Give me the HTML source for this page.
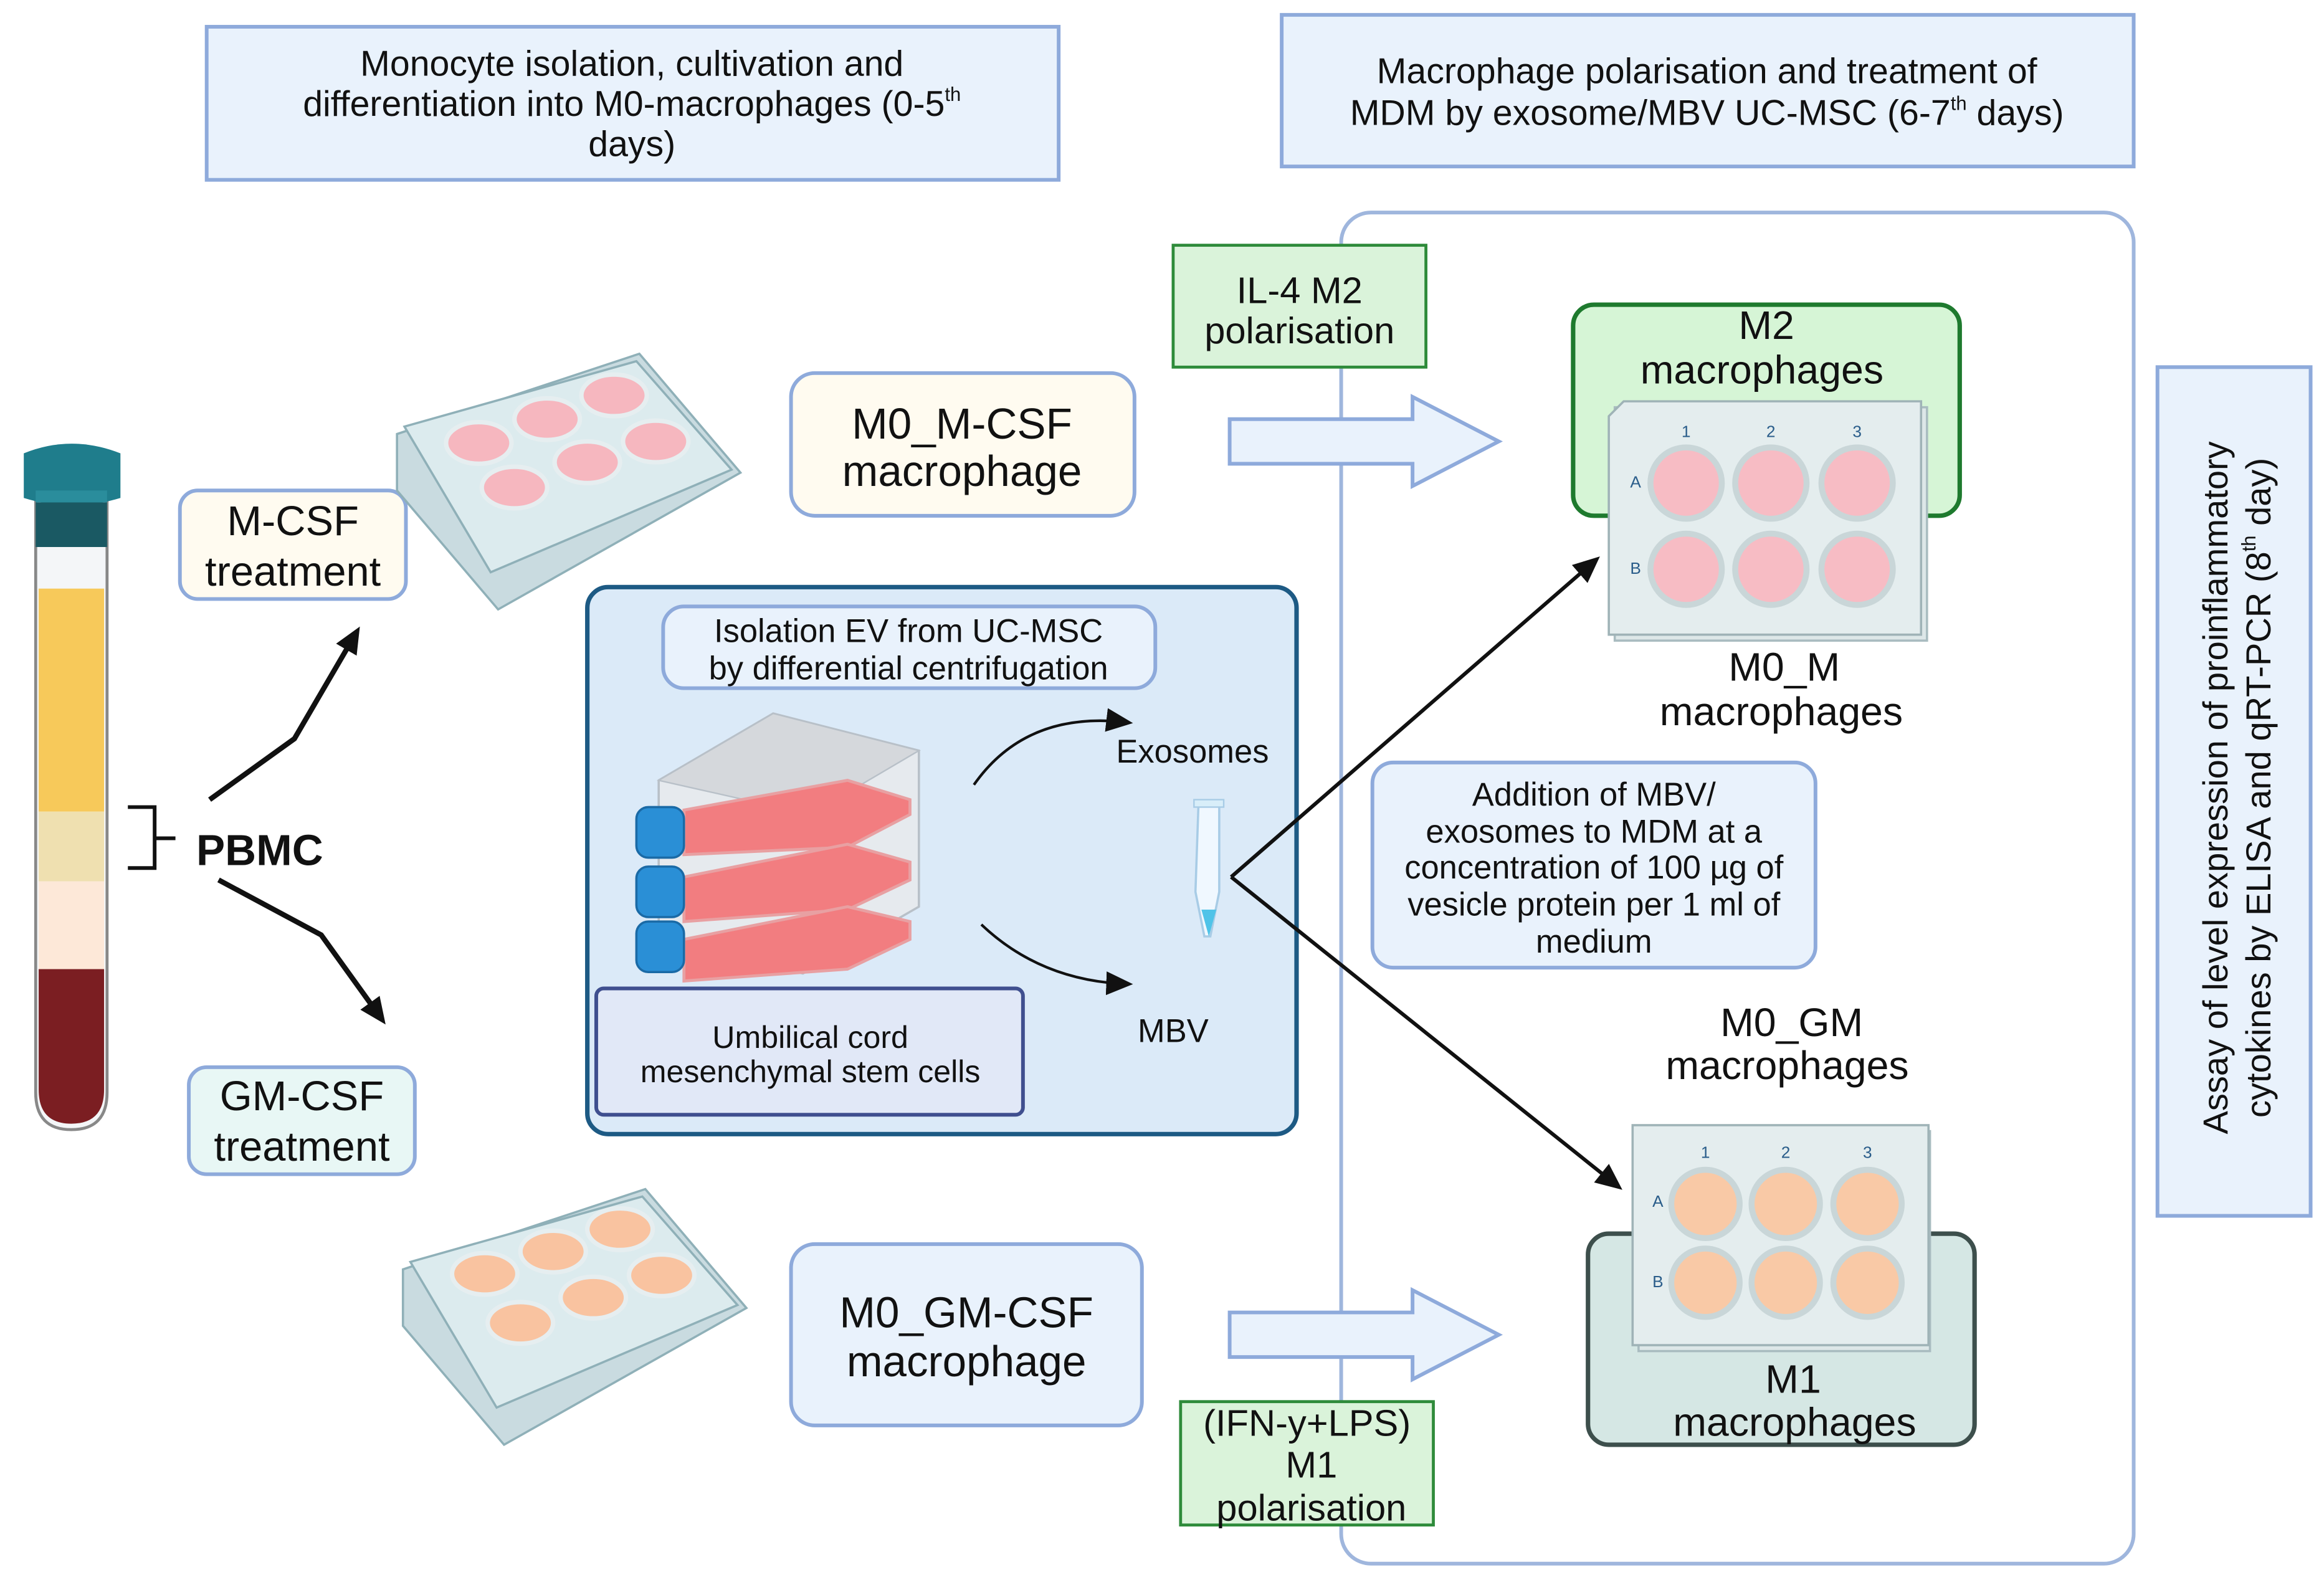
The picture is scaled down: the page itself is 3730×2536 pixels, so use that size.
<!DOCTYPE html>
<html><head><meta charset="utf-8"><style>
html,body{margin:0;padding:0;background:#fff;}
svg{display:block;}
text{font-family:"Liberation Sans",sans-serif;fill:#111;}
</style></head><body>
<svg width="3730" height="2536" viewBox="0 0 1563 1063" preserveAspectRatio="none" xmlns="http://www.w3.org/2000/svg">
<defs>
<marker id="ah2" markerWidth="20" markerHeight="20" refX="14" refY="10" orient="auto" markerUnits="userSpaceOnUse" viewBox="0 0 20 20"><path d="M0,2 L18,10 L0,18 z" fill="#111"/></marker>
</defs>
<rect width="1563" height="1063" fill="#fff"/>
<!-- top boxes -->
<rect x="139" y="18" width="573" height="103" fill="#e9f2fc" stroke="#8eaadb" stroke-width="2.5"/>
<text x="425" y="51" font-size="24" text-anchor="middle">Monocyte isolation, cultivation and</text>
<text x="425" y="78" font-size="24" text-anchor="middle">differentiation into M0-macrophages (0-5<tspan font-size="13" dy="-10">th</tspan></text>
<text x="425" y="105" font-size="24" text-anchor="middle">days)</text>
<rect x="862" y="10" width="573" height="102" fill="#e9f2fc" stroke="#8eaadb" stroke-width="2.5"/>
<text x="1148" y="56" font-size="24" text-anchor="middle">Macrophage polarisation and treatment of</text>
<text x="1148" y="84" font-size="24" text-anchor="middle">MDM by exosome/MBV UC-MSC (6-7<tspan font-size="13" dy="-10">th</tspan><tspan dy="10"> days)</tspan></text>
<!-- big container -->
<rect x="902" y="143" width="533" height="909" rx="20" fill="none" stroke="#9fb6dd" stroke-width="2.5"/>
<!-- right vertical -->
<rect x="1451" y="247" width="103" height="571" fill="#e9f2fc" stroke="#8eaadb" stroke-width="2.5"/>
<text transform="translate(1498,530) rotate(-90)" font-size="23.5" text-anchor="middle">Assay of level expression of proinflammatory</text>
<text transform="translate(1527,530) rotate(-90)" font-size="23.5" text-anchor="middle">cytokines by ELISA and qRT-PCR (8<tspan font-size="13" dy="-10">th</tspan><tspan dy="10"> day)</tspan></text>
<!-- IL-4 -->
<rect x="789" y="165" width="170" height="82" fill="#daf3da" stroke="#2e8b3a" stroke-width="2"/>
<text x="874" y="204" font-size="25" text-anchor="middle">IL-4 M2</text>
<text x="874" y="231" font-size="25" text-anchor="middle">polarisation</text>
<!-- M0_M-CSF -->
<rect x="532" y="251" width="231" height="96" rx="16" fill="#fffbf0" stroke="#8eaadb" stroke-width="2.5"/>
<text x="647" y="295" font-size="29" text-anchor="middle">M0_M-CSF</text>
<text x="647" y="327" font-size="29" text-anchor="middle">macrophage</text>
<!-- fat arrows -->
<path d="M827,282 L950,282 L950,267 L1008,297 L950,327 L950,312 L827,312 z" fill="#e9f2fc" stroke="#8eaadb" stroke-width="2.5"/>
<path d="M827,883 L950,883 L950,868 L1008,898 L950,928 L950,913 L827,913 z" fill="#e9f2fc" stroke="#8eaadb" stroke-width="2.5"/>
<!-- M2 box -->
<rect x="1058" y="205" width="260" height="142" rx="14" fill="#d6f5d6" stroke="#1e7a2e" stroke-width="3"/>
<text x="1188" y="228" font-size="27" text-anchor="middle">M2</text>
<text x="1185" y="258" font-size="27" text-anchor="middle">macrophages</text>
<!-- top plate -->
<rect x="1086" y="274" width="210" height="157" fill="#dde7e8" stroke="#a9bcc0" stroke-width="1.5"/>
<path d="M1092,270 L1292,270 L1292,427 L1082,427 L1082,280 z" fill="#e4edee" stroke="#9fb3b7" stroke-width="1.5"/>
<g font-size="11" text-anchor="middle">
<text x="1134" y="294" style="fill:#2a5d8a">1</text><text x="1191" y="294" style="fill:#2a5d8a">2</text><text x="1249" y="294" style="fill:#2a5d8a">3</text>
<text x="1100" y="328" style="fill:#2a5d8a">A</text><text x="1100" y="386" style="fill:#2a5d8a">B</text></g>
<g fill="#f7bcc4" stroke="#c9d6d8" stroke-width="4">
<circle cx="1134" cy="325" r="24"/><circle cx="1191" cy="325" r="24"/><circle cx="1249" cy="325" r="24"/>
<circle cx="1134" cy="383" r="24"/><circle cx="1191" cy="383" r="24"/><circle cx="1249" cy="383" r="24"/></g>
<text x="1200" y="458" font-size="27" text-anchor="middle">M0_M</text>
<text x="1198" y="488" font-size="27" text-anchor="middle">macrophages</text>
<!-- addition box -->
<rect x="923" y="513" width="298" height="138" rx="14" fill="#e9f2fc" stroke="#8eaadb" stroke-width="2.5"/>
<g font-size="22" text-anchor="middle">
<text x="1072" y="542">Addition of MBV/</text>
<text x="1072" y="567">exosomes to MDM at a</text>
<text x="1072" y="591">concentration of 100 µg of</text>
<text x="1072" y="616">vesicle protein per 1 ml of</text>
<text x="1072" y="641">medium</text></g>
<text x="1205" y="697" font-size="27" text-anchor="middle">M0_GM</text>
<text x="1202" y="726" font-size="27" text-anchor="middle">macrophages</text>
<!-- M1 box -->
<rect x="1068" y="830" width="260" height="142" rx="14" fill="#d5e7e4" stroke="#3d4f4c" stroke-width="3"/>
<text x="1206" y="937" font-size="27" text-anchor="middle">M1</text>
<text x="1207" y="966" font-size="27" text-anchor="middle">macrophages</text>
<!-- lower plate -->
<rect x="1102" y="761" width="196" height="148" fill="#dde7e8" stroke="#a9bcc0" stroke-width="1.5"/>
<rect x="1098" y="757" width="199" height="148" fill="#e4edee" stroke="#9fb3b7" stroke-width="1.5"/>
<g font-size="11" text-anchor="middle">
<text x="1147" y="779" style="fill:#2a5d8a">1</text><text x="1201" y="779" style="fill:#2a5d8a">2</text><text x="1256" y="779" style="fill:#2a5d8a">3</text>
<text x="1115" y="812" style="fill:#2a5d8a">A</text><text x="1115" y="866" style="fill:#2a5d8a">B</text></g>
<g fill="#f9c9a6" stroke="#c9d6d8" stroke-width="4">
<circle cx="1147" cy="810" r="23"/><circle cx="1201" cy="810" r="23"/><circle cx="1256" cy="810" r="23"/>
<circle cx="1147" cy="863" r="23"/><circle cx="1201" cy="863" r="23"/><circle cx="1256" cy="863" r="23"/></g>
<!-- IFN -->
<rect x="794" y="943" width="170" height="83" fill="#daf3da" stroke="#2e8b3a" stroke-width="2"/>
<text x="879" y="966" font-size="25" text-anchor="middle">(IFN-y+LPS)</text>
<text x="882" y="994" font-size="25" text-anchor="middle">M1</text>
<text x="882" y="1023" font-size="25" text-anchor="middle">polarisation</text>
<!-- M0_GM-CSF -->
<rect x="532" y="837" width="236" height="122" rx="16" fill="#e9f2fc" stroke="#8eaadb" stroke-width="2.5"/>
<text x="650" y="893" font-size="29" text-anchor="middle">M0_GM-CSF</text>
<text x="650" y="926" font-size="29" text-anchor="middle">macrophage</text>
<!-- center box -->
<rect x="395" y="395" width="477" height="368" rx="14" fill="#dbeaf8" stroke="#1d5a84" stroke-width="3"/>
<rect x="446" y="408" width="331" height="55" rx="14" fill="#e9f2fc" stroke="#8eaadb" stroke-width="2.5"/>
<text x="611" y="432" font-size="22" text-anchor="middle">Isolation EV from UC-MSC</text>
<text x="611" y="457" font-size="22" text-anchor="middle">by differential centrifugation</text>
<!-- flasks -->
<path d="M443,525 L520,480 L618,505 L618,610 L540,655 L443,630 z" fill="#e6eaee" stroke="#b8c0c8" stroke-width="1.5"/>
<path d="M443,525 L520,480 L618,505 L545,548 z" fill="#d5d8dc" stroke="#b8c0c8"/>
<g fill="#f27d80" stroke="#e8a0a2" stroke-width="2">
<path d="M460,545 L570,525 L612,538 L612,548 L570,570 L460,575 z"/>
<path d="M460,590 L570,568 L612,580 L612,592 L570,612 L460,620 z"/>
<path d="M460,632 L570,610 L612,620 L612,632 L570,652 L460,660 z"/></g>
<g fill="#2a8fd6" stroke="#1a6aa6" stroke-width="1.5">
<rect x="428" y="543" width="32" height="34" rx="8"/><rect x="428" y="583" width="32" height="34" rx="8"/><rect x="428" y="620" width="32" height="34" rx="8"/></g>
<!-- curved arrows -->
<path d="M655,528 Q690,478 758,486" fill="none" stroke="#111" stroke-width="1.8" marker-end="url(#ah2)"/>
<path d="M660,622 Q700,660 758,662" fill="none" stroke="#111" stroke-width="1.8" marker-end="url(#ah2)"/>
<text x="802" y="513" font-size="22" text-anchor="middle">Exosomes</text>
<text x="789" y="701" font-size="22" text-anchor="middle">MBV</text>
<!-- tube small -->
<path d="M806,542 L820,542 L820,600 L814,630 L810,630 L804,600 z" fill="#f0f8ff" stroke="#a8cce6" stroke-width="1.5"/>
<path d="M808,612 L818,612 L813,630 z" fill="#4fc3e8"/>
<rect x="803" y="538" width="20" height="5" fill="#d8eef9" stroke="#a8cce6"/>
<rect x="401" y="665" width="287" height="85" rx="5" fill="#e1e8f7" stroke="#3f4f8f" stroke-width="2.5"/>
<text x="545" y="705" font-size="21" text-anchor="middle">Umbilical cord</text>
<text x="545" y="728" font-size="21" text-anchor="middle">mesenchymal stem cells</text>
<!-- diagonal arrows -->
<path d="M828,590 L1073,377" fill="none" stroke="#111" stroke-width="2.5" marker-end="url(#ah2)"/>
<path d="M828,590 L1088,798" fill="none" stroke="#111" stroke-width="2.5" marker-end="url(#ah2)"/>
<!-- left tube -->
<path d="M24,335 L72,335 L72,735 Q72,760 48,760 Q24,760 24,735 z" fill="#f4f6f8" stroke="#888" stroke-width="2"/>
<rect x="26" y="396" width="44" height="150" fill="#f7c95a"/>
<rect x="26" y="546" width="44" height="47" fill="#efe0b0"/>
<rect x="26" y="593" width="44" height="59" fill="#fde8d8"/>
<path d="M26,652 L70,652 L70,733 Q70,756 48,756 Q26,756 26,733 z" fill="#7b1e22"/>
<path d="M16,305 Q48,292 81,305 L81,335 Q48,345 16,335 z" fill="#1f7d8c"/>
<path d="M24,338 L72,338 L72,368 L24,368 z" fill="#1a5963"/>
<rect x="24" y="330" width="48" height="8" fill="#2a8d9c"/>
<!-- PBMC -->
<path d="M86,543 L104,543 L104,584 L86,584 M104,564 L118,564" fill="none" stroke="#111" stroke-width="2.5"/>
<text x="132" y="582" font-size="29" font-weight="bold">PBMC</text>
<path d="M141,538 L198,497 L240,425" fill="none" stroke="#111" stroke-width="3.5" marker-end="url(#ah2)"/>
<path d="M147,592 L216,629 L257,686" fill="none" stroke="#111" stroke-width="3.5" marker-end="url(#ah2)"/>
<rect x="121" y="330" width="152" height="73" rx="12" fill="#fffbf0" stroke="#8eaadb" stroke-width="2.5"/>
<text x="197" y="360" font-size="28" text-anchor="middle">M-CSF</text>
<text x="197" y="394" font-size="28" text-anchor="middle">treatment</text>
<rect x="127" y="718" width="152" height="72" rx="12" fill="#e8f7f5" stroke="#8eaadb" stroke-width="2.5"/>
<text x="203" y="747" font-size="28" text-anchor="middle">GM-CSF</text>
<text x="203" y="781" font-size="28" text-anchor="middle">treatment</text>
<!-- isometric plates -->
<g>
<path d="M267,292 L430,238 L498,318 L335,410 L267,330 z" fill="#c9dbe0" stroke="#8fb0b8" stroke-width="1.5"/>
<path d="M272,287 L428,243 L492,316 L330,385 z" fill="#dcebee" stroke="#8fb0b8" stroke-width="1.5"/>
<g fill="#f6b7bf" stroke="#e6eef0" stroke-width="3">
<ellipse cx="322" cy="298" rx="22" ry="14"/><ellipse cx="368" cy="282" rx="22" ry="14"/><ellipse cx="413" cy="266" rx="22" ry="14"/>
<ellipse cx="346" cy="328" rx="22" ry="14"/><ellipse cx="395" cy="311" rx="22" ry="14"/><ellipse cx="441" cy="297" rx="22" ry="14"/></g>
</g>
<g>
<path d="M271,854 L434,800 L502,880 L339,972 L271,892 z" fill="#c9dbe0" stroke="#8fb0b8" stroke-width="1.5"/>
<path d="M276,849 L432,805 L496,878 L334,947 z" fill="#dcebee" stroke="#8fb0b8" stroke-width="1.5"/>
<g fill="#f9c3a0" stroke="#e6eef0" stroke-width="3">
<ellipse cx="326" cy="857" rx="22" ry="14"/><ellipse cx="372" cy="842" rx="22" ry="14"/><ellipse cx="417" cy="827" rx="22" ry="14"/>
<ellipse cx="350" cy="890" rx="22" ry="14"/><ellipse cx="399" cy="873" rx="22" ry="14"/><ellipse cx="445" cy="858" rx="22" ry="14"/></g>
</g>
</svg>
</body></html>
